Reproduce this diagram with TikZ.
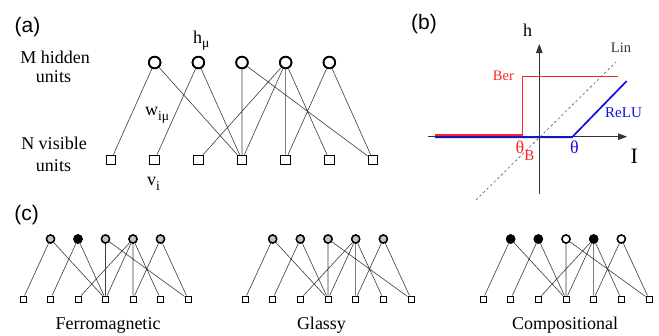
\documentclass[tikz,border=0pt]{standalone}
\usepackage{fontspec}
\setmainfont{Liberation Serif}
\newfontfamily\lsans{Liberation Sans}
\usetikzlibrary{arrows.meta}
\definecolor{hgray}{RGB}{195,195,195}
\definecolor{berred}{RGB}{255,35,35}
\definecolor{relublue}{RGB}{15,15,225}
\definecolor{edgecol}{RGB}{60,60,60}
\newcommand{\rbmedges}[1]{%
  \draw[netedge] (#1h1)--(#1v1) (#1h1)--(#1v4) (#1h2)--(#1v2) (#1h2)--(#1v4)
    (#1h3)--(#1v4) (#1h3)--(#1v7) (#1h4)--(#1v3) (#1h4)--(#1v4)
    (#1h4)--(#1v5) (#1h4)--(#1v6) (#1h5)--(#1v5) (#1h5)--(#1v7);}
\newcommand{\fs}[1]{\fontsize{#1}{#1}\selectfont}
\tikzset{
  hidA/.style={circle, draw=black, line width=1.8pt, minimum size=11.5pt, inner sep=0pt, fill=white},
  visA/.style={rectangle, draw=black, line width=0.9pt, minimum size=9.8pt, inner sep=0pt, fill=white},
  hidC/.style={circle, draw=black, line width=1.4pt, minimum size=8pt, inner sep=0pt},
  visC/.style={rectangle, draw=black, line width=0.8pt, minimum size=6pt, inner sep=0pt, fill=white},
  netedge/.style={draw=edgecol, line width=0.6pt},
  lbl/.style={inner sep=0pt, font=\fs{18}},
  panel/.style={inner sep=0pt, font=\lsans\fs{21}},
  axis/.style={draw=black!80, line width=0.8pt, -{Triangle[length=9pt,width=6.5pt]}},
}
\begin{document}
\begin{tikzpicture}[x=1pt,y=-1pt]
\useasboundingbox (0,0) rectangle (659,335);
% ---------------- panel (a)
\node[panel] (pa) at (27.5,27) {(a)};
\node[lbl,anchor=base] (mh) at (55,63.3) {M hidden};
\node[lbl,anchor=base] (mhu) at (53.5,82.7) {units};
\node[lbl,anchor=base] (nv) at (54,149.3) {N visible};
\node[lbl,anchor=base] (nvu) at (53.5,171.7) {units};
\foreach \i in {1,...,7}
  \node[visA] (av\i) at ({111+(\i-1)*43.67},160) {};
\foreach \j in {1,...,5}
  \node[hidA] (ah\j) at ({111+\j*43.67},62.5) {};
\rbmedges{a}
\foreach \j in {1,...,5} \node[hidA] at (ah\j) {};
\node[lbl,anchor=base west] (hmu) at (193,43.3) {h\raisebox{-4pt}{\fs{13.5}μ}};
\node[lbl,anchor=base west] (wim) at (145,115) {w\raisebox{-5pt}{\fs{13.5}iμ}};
\node[lbl,anchor=base west] (vi) at (147,185.7) {v\raisebox{-5pt}{\fs{13.5}i}};
% ---------------- panel (b)
\node[panel] (pb) at (424,24) {(b)};
\coordinate (xs) at (428,136.7);
\coordinate (xe) at (627,136.7);
\coordinate (ys) at (539.3,194);
\coordinate (ye) at (539.3,44);
\draw[axis] (xs) -- (xe);
\draw[axis] (ys) -- (ye);
\coordinate (ls) at (476,200);
\coordinate (le) at (616,62);
\draw[black!65, line width=0.6pt, dash pattern=on 2.5pt off 2.5pt] (ls) -- (le);
\coordinate (b1) at (435,135);
\coordinate (b2) at (522.3,135);
\coordinate (b3) at (522.3,76.7);
\coordinate (b4) at (618.3,76.7);
\draw[berred, line width=1.4pt] (b1) -- (b2) -- (b3) -- (b4);
\coordinate (r1) at (435,137.3);
\coordinate (r2) at (572,137.3);
\coordinate (r3) at (626.7,81);
\draw[relublue, line width=1.7pt] (r1) -- (r2) -- (r3);
\node[lbl,anchor=base west] (hl) at (523,36.7) {h};
\node[lbl,anchor=base west,font=\fs{14.5},text=black!80] (lin) at (610.7,52.3) {Lin};
\node[lbl,anchor=base west,font=\fs{14.5},text=berred] (ber) at (492.7,80) {Ber};
\node[lbl,anchor=base west,font=\fs{15},text=relublue] (relu) at (605,117.3) {ReLU};
\node[lbl,anchor=base west,text=berred] (thb) at (515.5,153) {θ\raisebox{-7pt}{\fs{15}B}};
\node[lbl,anchor=base west,text=relublue] (th) at (570,153) {θ};
\node[lbl,anchor=base west,font=\fs{22}] (il) at (630.5,163.3) {I};
% ---------------- panel (c)
\node[panel] (pc) at (26.5,215) {(c)};
% Ferromagnetic
\foreach \i in {1,...,7}
  \node[visC] (fv\i) at ({23+(\i-1)*27.5},299) {};
\foreach \j/\c in {1/hgray,2/black,3/hgray,4/hgray,5/hgray}
  \node[hidC,fill=\c] (fh\j) at ({23+\j*27.5},239) {};
\rbmedges{f}
\foreach \j/\c in {1/hgray,2/black,3/hgray,4/hgray,5/hgray}
  \node[hidC,fill=\c] at (fh\j) {};
\node[lbl,anchor=base] (fl) at (108,329) {Ferromagnetic};
% Glassy
\foreach \i in {1,...,7}
  \node[visC] (gv\i) at ({245+(\i-1)*27.67},299) {};
\foreach \j in {1,...,5}
  \node[hidC,fill=hgray] (gh\j) at ({245+\j*27.67},239) {};
\rbmedges{g}
\foreach \j in {1,...,5}
  \node[hidC,fill=hgray] at (gh\j) {};
\node[lbl,anchor=base] (gl) at (321.5,329) {Glassy};
% Compositional
\foreach \i in {1,...,7}
  \node[visC] (cv\i) at ({483+(\i-1)*27.67},299) {};
\foreach \j/\c in {1/black,2/black,3/white,4/black,5/white}
  \node[hidC,fill=\c] (ch\j) at ({483+\j*27.67},239) {};
\rbmedges{c}
\foreach \j/\c in {1/black,2/black,3/white,4/black,5/white}
  \node[hidC,fill=\c] at (ch\j) {};
\node[lbl,anchor=base] (cl) at (565,329) {Compositional};
\end{tikzpicture}
\end{document}
